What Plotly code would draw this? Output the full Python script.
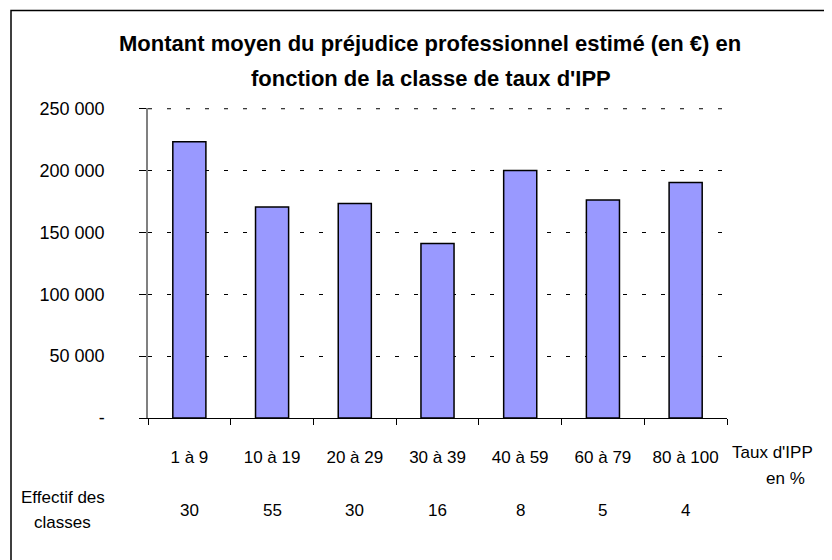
import plotly.graph_objects as go

# Data
classes = ["1 à 9", "10 à 19", "20 à 29", "30 à 39", "40 à 59", "60 à 79", "80 à 100"]
montants = [223400, 170600, 173400, 141100, 200000, 176300, 190300]
effectifs = [30, 55, 30, 16, 8, 5, 4]
y_ticks = [0, 50000, 100000, 150000, 200000, 250000]
y_tick_labels = ["-", "50 000", "100 000", "150 000", "200 000", "250 000"]

FONT = "Liberation Sans, Arial, sans-serif"

# page body has an 8px margin, so the plot area is shifted by that much
L, T, R, B = 148, 108, 727, 418
OFF = 8


def px_x(x):
    return (x - L) / (R - L)


def px_y(y):
    return (B - y) / (B - T)


fig = go.Figure()

fig.add_trace(go.Bar(
    x=classes,
    y=montants,
    marker=dict(color="#9999FF", line=dict(color="black", width=1.5)),
    showlegend=False,
))

fig.update_layout(
    width=832,
    height=560,
    margin=dict(l=L - OFF, r=832 - R + OFF, t=T - OFF, b=560 - B + OFF),
    paper_bgcolor="white",
    plot_bgcolor="white",
    bargap=0.6,
    font=dict(family=FONT, size=17, color="black"),
)

annots = [
    dict(x=px_x(430), y=px_y(44), text="<b>Montant moyen du préjudice professionnel estimé (en €) en</b>",
         font=dict(size=22)),
    dict(x=px_x(431), y=px_y(78), text="<b>fonction de la classe de taux d'IPP</b>",
         font=dict(size=22)),
    dict(x=px_x(772), y=px_y(453), text="Taux d'IPP"),
    dict(x=px_x(785), y=px_y(478), text="en %"),
    dict(x=px_x(63), y=px_y(497), text="Effectif des"),
    dict(x=px_x(63), y=px_y(522), text="classes"),
]
for a in annots:
    fig.add_annotation(xref="paper", yref="paper", showarrow=False,
                       xanchor="center", yanchor="middle", **a)

# count row under the axis
for c, n in zip(classes, effectifs):
    fig.add_annotation(x=c, y=px_y(510), xref="x", yref="paper",
                       text=str(n), showarrow=False,
                       xanchor="center", yanchor="middle")

fig.update_xaxes(
    type="category",
    showline=True, linecolor="black", linewidth=1,
    ticks="outside", tickson="boundaries", ticklen=6, tickcolor="black",
    ticklabelstandoff=24,
    showgrid=False,
)
fig.update_yaxes(
    range=[0, 250600],
    tickvals=y_ticks, ticktext=y_tick_labels,
    tickfont=dict(size=18),
    showline=True, linecolor="#808080", linewidth=1.5,
    ticks="outside", ticklen=7, tickcolor="black",
    ticklabelstandoff=31,
    showgrid=True, gridcolor="black", gridwidth=1, griddash="4px,15px",
    zeroline=False,
)

# plotly drops the gridline at the top edge, so draw the top one as a shape
fig.add_shape(type="line", xref="paper", yref="y",
              x0=0, x1=1, y0=y_ticks[-1], y1=y_ticks[-1],
              line=dict(color="black", width=1, dash="4px,15px"),
              layer="below")

# outer frame of the chart area (right and bottom edges run off the picture)
fig.add_shape(type="rect", xref="paper", yref="paper",
              x0=px_x(11), x1=px_x(850), y0=px_y(580), y1=px_y(10.5),
              line=dict(color="black", width=1.5))

fig.write_html("out.html")
